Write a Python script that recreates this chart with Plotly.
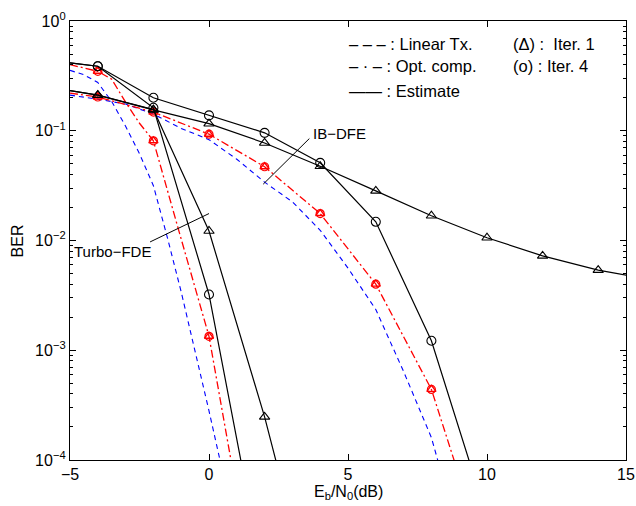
import plotly.graph_objects as go

# ---------------- data ----------------
# Turbo-FDE
turbo_lin_x = [-5, -4.5, -4, -3.5, -3, -2.5, -2, -1.5, -1, -0.5, 0, 0.5, 1]
turbo_lin_y = [0.355, 0.324, 0.275, 0.185, 0.11, 0.0617, 0.0316, 0.0107, 3.4e-3, 1.0e-3, 2.8e-4, 7.6e-5, 2.0e-5]
turbo_opt_x = [-5, -4, -3.5, -3, -2.5, -2, -1, 0, 1]
turbo_opt_y = [0.40, 0.348, 0.295, 0.182, 0.117, 0.081, 0.0103, 1.34e-3, 5.0e-5]
turbo_it1_x = [-5, -4, -2, 0, 2, 4]
turbo_it1_y = [0.232, 0.211, 0.156, 0.0122, 2.47e-4, 2.7e-6]
turbo_it4_x = [-5, -4, -2, 0, 2]
turbo_it4_y = [0.415, 0.387, 0.162, 3.22e-3, 7.4e-6]

# IB-DFE
ib_lin_x = [-5, -4, -3, -2, -1, 0, 1, 2, 3, 4, 5, 6, 7, 8, 9]
ib_lin_y = [0.211, 0.194, 0.175, 0.142, 0.105, 0.083, 0.055, 0.034, 0.0225, 0.0124, 5.6e-3, 2.35e-3, 6.4e-4, 1.6e-4, 2.0e-5]
ib_opt_x = [-5, -4, -2, 0, 2, 4, 6, 8, 10]
ib_opt_y = [0.22, 0.203, 0.148, 0.093, 0.047, 0.0176, 4.0e-3, 4.4e-4, 1.15e-5]
ib_it1_x = [-5, -4, -2, 0, 2, 4, 6, 8, 10, 12, 14, 16]
ib_it1_y = [0.232, 0.211, 0.155, 0.116, 0.0774, 0.0475, 0.0283, 0.0168, 0.0106, 7.24e-3, 5.37e-3, 4.35e-3]
ib_it4_x = [-5, -4, -2, 0, 2, 4, 6, 8, 10]
ib_it4_y = [0.415, 0.387, 0.200, 0.138, 0.0957, 0.051, 0.0148, 1.22e-3, 3.0e-5]

# pointer lines for the group labels
ib_ptr_x = [1.95, 3.61]
ib_ptr_y = [0.0326, 0.0849]
turbo_ptr_x = [-2.12, 0.0]
turbo_ptr_y = [9.7e-3, 0.0176]

x_tick_vals = [-5, 0, 5, 10, 15]
x_tick_text = ["\u22125", "0", "5", "10", "15"]
y_tick_vals = [1e-4, 1e-3, 1e-2, 1e-1, 1]
y_tick_text = ["10<sup>\u22124</sup>", "10<sup>\u22123</sup>", "10<sup>\u22122</sup>",
               "10<sup>\u22121</sup>", "10<sup>0</sup>"]
y_minor_vals = [k * 10.0 ** e for e in range(-4, 0) for k in range(2, 10)]

FONT = "Liberation Sans, Arial, Helvetica, sans-serif"


def marker_pts(xs, ys):
    px, py = [], []
    for a, b in zip(xs, ys):
        if a > -5 and float(a).is_integer() and int(a) % 2 == 0:
            px.append(a)
            py.append(b)
    return px, py


fig = go.Figure()

blue = "rgb(0,0,255)"
red = "rgb(255,0,0)"

for xs, ys in [(turbo_lin_x, turbo_lin_y), (ib_lin_x, ib_lin_y)]:
    fig.add_trace(go.Scatter(x=xs, y=ys, mode="lines",
                             line=dict(color=blue, width=1.1, dash="5px,4px")))

for xs, ys in [(turbo_opt_x, turbo_opt_y), (ib_opt_x, ib_opt_y)]:
    fig.add_trace(go.Scatter(x=xs, y=ys, mode="lines",
                             line=dict(color=red, width=1.3, dash="8px,3px,2px,3px")))
    mx, my = marker_pts(xs, ys)
    fig.add_trace(go.Scatter(x=mx, y=my, mode="markers",
                             marker=dict(symbol="triangle-up-open", size=8, color=red,
                                         line=dict(width=1.4, color=red))))
    fig.add_trace(go.Scatter(x=mx, y=my, mode="markers",
                             marker=dict(symbol="circle-open", size=8, color=red,
                                         line=dict(width=1.2, color=red))))

for xs, ys, sym in [(turbo_it1_x, turbo_it1_y, "triangle-up-open"),
                    (turbo_it4_x, turbo_it4_y, "circle-open"),
                    (ib_it1_x, ib_it1_y, "triangle-up-open"),
                    (ib_it4_x, ib_it4_y, "circle-open")]:
    fig.add_trace(go.Scatter(x=xs, y=ys, mode="lines",
                             line=dict(color="black", width=1.2)))
    mx, my = marker_pts(xs, ys)
    fig.add_trace(go.Scatter(x=mx, y=my, mode="markers",
                             marker=dict(symbol=sym, size=9, color="black",
                                         line=dict(width=1.1, color="black"))))

for xs, ys in [(ib_ptr_x, ib_ptr_y), (turbo_ptr_x, turbo_ptr_y)]:
    fig.add_trace(go.Scatter(x=xs, y=ys, mode="lines",
                             line=dict(color="black", width=1)))

annotations = [
    dict(x=3.66, y=-1.023, xref="x", yref="y", text="IB\u2212DFE", showarrow=False,
         xanchor="left", yanchor="middle", font=dict(size=15)),
    dict(x=-2.02, y=-2.098, xref="x", yref="y", text="Turbo\u2212FDE", showarrow=False,
         xanchor="right", yanchor="middle", font=dict(size=15)),
    dict(x=0.4976, y=0.947, xref="paper", yref="paper",
         text="\u2013 \u2013 \u2013 : Linear Tx.", showarrow=False,
         xanchor="left", yanchor="middle", font=dict(size=16.5)),
    dict(x=0.4976, y=0.898, xref="paper", yref="paper",
         text="\u2013 \u00b7 \u2013 : Opt. comp.", showarrow=False,
         xanchor="left", yanchor="middle", font=dict(size=16.5)),
    dict(x=0.4976, y=0.841, xref="paper", yref="paper",
         text="\u2014\u2014 : Estimate", showarrow=False,
         xanchor="left", yanchor="middle", font=dict(size=16.5)),
    dict(x=0.793, y=0.947, xref="paper", yref="paper",
         text="(\u0394) :  Iter. 1", showarrow=False,
         xanchor="left", yanchor="middle", font=dict(size=16.5)),
    dict(x=0.793, y=0.898, xref="paper", yref="paper",
         text="(o) : Iter. 4", showarrow=False,
         xanchor="left", yanchor="middle", font=dict(size=16.5)),
    dict(x=0.5, y=-0.073, xref="paper", yref="paper",
         text="E<sub>b</sub>/N<sub>0</sub>(dB)", showarrow=False,
         xanchor="center", yanchor="middle", font=dict(size=16)),
    dict(x=-0.0944, y=0.499, xref="paper", yref="paper", text="BER",
         textangle=-90, showarrow=False, xanchor="center", yanchor="middle",
         font=dict(size=16)),
]

fig.update_layout(
    width=636, height=506,
    margin=dict(l=70, r=10, t=21, b=46, autoexpand=False),
    paper_bgcolor="white", plot_bgcolor="white",
    showlegend=False,
    font=dict(family=FONT, size=16, color="black"),
    annotations=annotations,
)
fig.update_xaxes(range=[-5, 15], tickmode="array", tickvals=x_tick_vals, ticktext=x_tick_text,
                 automargin=False,
                 showgrid=False, zeroline=False, showline=True, linecolor="black", linewidth=1.3,
                 mirror="ticks", ticks="inside", ticklen=6, tickcolor="black", tickwidth=1,
                 tickfont=dict(size=16, family=FONT))
fig.update_yaxes(type="log", range=[-4, 0], tickmode="array", tickvals=y_tick_vals,
                 ticktext=y_tick_text, showgrid=False, zeroline=False, showline=True,
                 automargin=False,
                 linecolor="black", linewidth=1.3, mirror="ticks", ticks="inside",
                 ticklen=6, tickcolor="black", tickwidth=1,
                 tickfont=dict(size=16, family=FONT),
                 minor=dict(tickmode="array", tickvals=y_minor_vals, ticks="inside",
                            ticklen=3, tickcolor="black", tickwidth=1, showgrid=False))

fig.write_html("out.html", config={"displayModeBar": False},
               post_script="document.body.style.margin='0';document.body.style.padding='0';")
